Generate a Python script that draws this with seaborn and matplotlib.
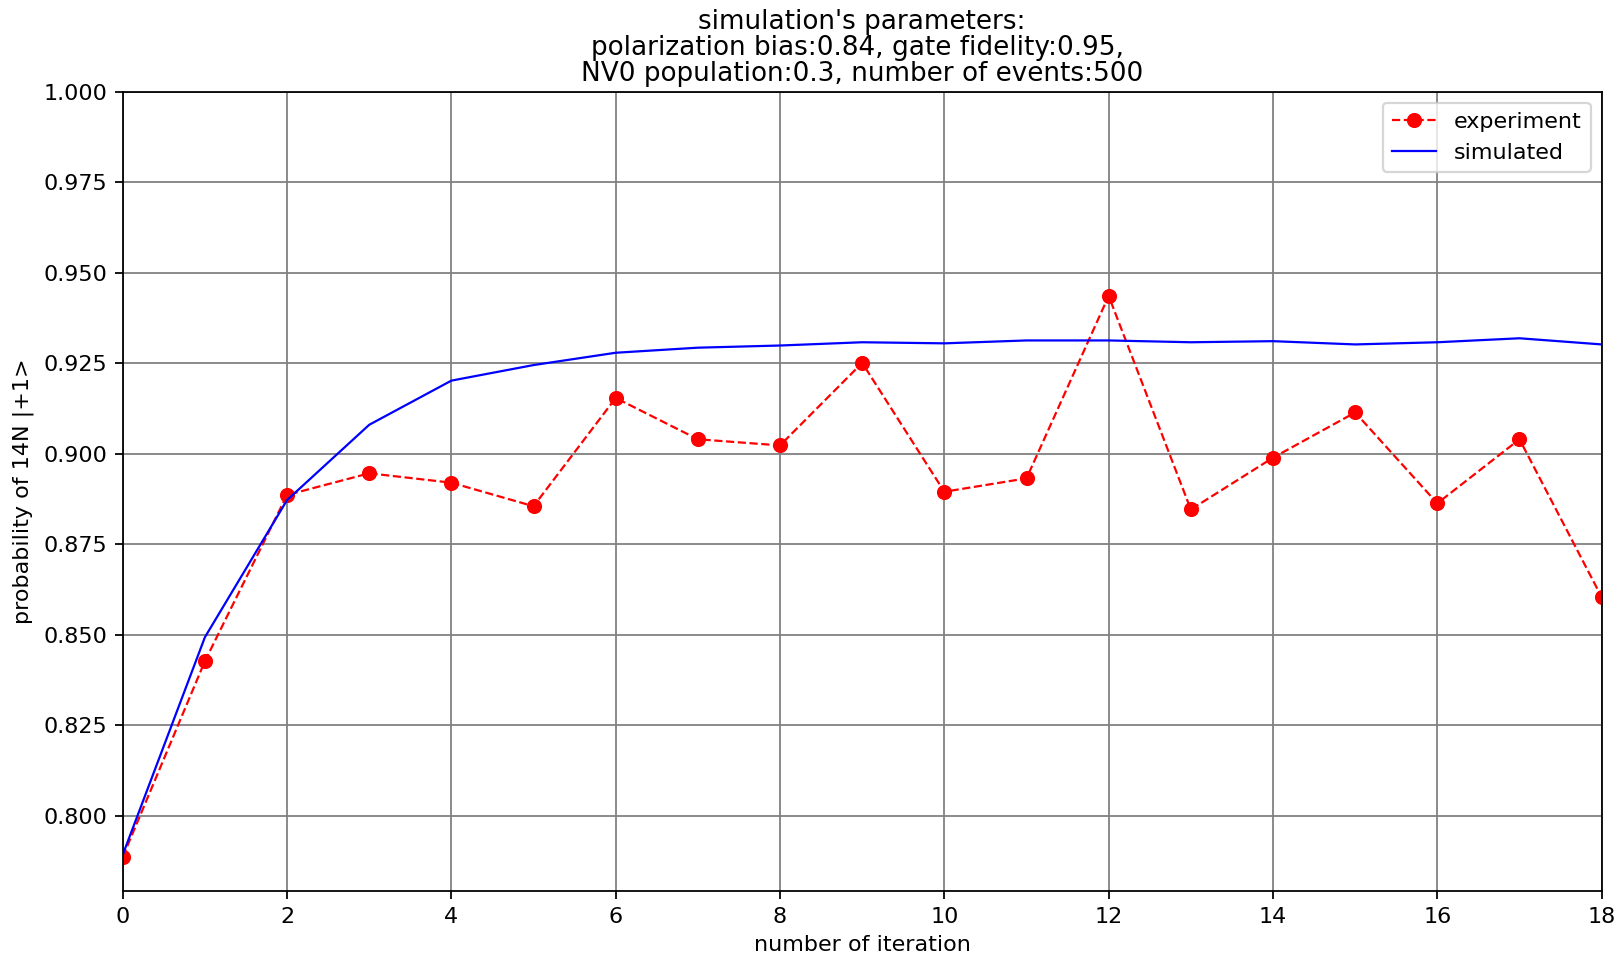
import matplotlib
matplotlib.use("Agg")
import matplotlib.pyplot as plt
import seaborn as sns
import numpy as np

iterations = list(range(19))
experiment = [0.7886, 0.8427, 0.8886, 0.8946, 0.8920, 0.8855, 0.9154, 0.9040, 0.9023,
              0.9251, 0.8895, 0.8932, 0.9436, 0.8846, 0.8989, 0.9114, 0.8863, 0.9040, 0.8604]
simulated = [0.7892, 0.8493, 0.8872, 0.9080, 0.9202, 0.9245, 0.9279, 0.9293, 0.9299,
             0.9308, 0.9305, 0.9313, 0.9313, 0.9308, 0.9311, 0.9302, 0.9308, 0.9319, 0.9302]
xticks = list(range(0, 19, 2))
yticks = [0.800, 0.825, 0.850, 0.875, 0.900, 0.925, 0.950, 0.975, 1.000]

fig, ax = plt.subplots(figsize=(1617 / 160, 956 / 160), dpi=160)
fig.subplots_adjust(left=0.0759, right=0.9905, bottom=0.068, top=0.904)

sns.lineplot(x=iterations, y=experiment, ax=ax, color="red", linestyle="--", marker="o",
             markersize=6, markeredgecolor="red", markeredgewidth=0.8, linewidth=1.0,
             label="experiment")
sns.lineplot(x=iterations, y=simulated, ax=ax, color="blue", linewidth=1.0, label="simulated")

ax.set_xlim(0, 18)
ax.set_ylim(0.7792, 1.0)
ax.set_xticks(xticks)
ax.set_yticks(yticks)
ax.set_yticklabels([f"{v:.3f}" for v in yticks])
ax.grid(True, color="gray", linewidth=0.8)
ax.set_axisbelow(True)
ax.set_xlabel("number of iteration")
ax.set_ylabel("probability of 14N |+1>")
ax.set_title("simulation's parameters:\npolarization bias:0.84, gate fidelity:0.95, \nNV0 population:0.3, number of events:500",
             fontsize=11.8, linespacing=1.0, pad=5)
ax.legend(loc="upper right")

fig.savefig("out.png", dpi=160)
